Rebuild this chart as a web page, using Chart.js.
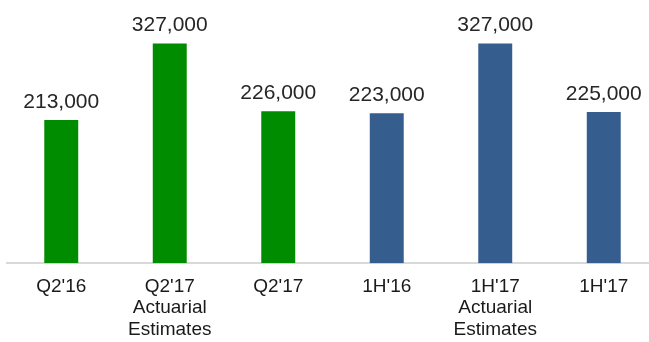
<!DOCTYPE html>
<html>
<head>
<meta charset="utf-8">
<script src="https://cdn.jsdelivr.net/npm/chart.js@4/dist/chart.umd.min.js"></script>
<style>
  html, body { margin: 0; padding: 0; background: #fff; overflow: hidden; }
  #wrap { width: 658px; height: 342px; }
</style>
</head>
<body>
<div id="wrap"><canvas id="grafico"></canvas></div>
<script>
// categorias (eixo x, multi-linha)
const categorias = [
    ["Q2'16"],
    ["Q2'17", "Actuarial", "Estimates"],
    ["Q2'17"],
    ["1H'16"],
    ["1H'17", "Actuarial", "Estimates"],
    ["1H'17"]
];

const valores = [213000, 327000, 226000, 223000, 327000, 225000];

const cores = ["#008c00", "#008c00", "#008c00", "#355d8e", "#355d8e", "#355d8e"];

const fonte = "'Liberation Sans', Arial, sans-serif";

// rotulos acima das barras
const rotulosValor = {
    id: "rotulosValor",
    afterDatasetsDraw(chart) {
        const ctx = chart.ctx;
        const meta = chart.getDatasetMeta(0);
        ctx.save();
        ctx.font = "21px " + fonte;
        ctx.fillStyle = "#262626";
        ctx.textAlign = "center";
        ctx.textBaseline = "alphabetic";
        meta.data.forEach((bar, i) => {
            ctx.fillText(valores[i].toLocaleString("en-US"), bar.x, bar.y - 12);
        });
        ctx.restore();
    }
};

new Chart(document.getElementById("grafico"), {
    type: "bar",
    data: {
        labels: categorias,
        datasets: [{
            data: valores,
            backgroundColor: cores,
            barPercentage: 0.313,
            categoryPercentage: 1
        }]
    },
    options: {
        responsive: true,
        maintainAspectRatio: false,
        animation: false,
        layout: { padding: { left: 7, right: 0, top: 28, bottom: -11 } },
        plugins: {
            legend: { display: false },
            tooltip: { enabled: false }
        },
        scales: {
            x: {
                grid: { display: false, drawTicks: false },
                border: { display: true, color: "#d9d9d9", width: 2 },
                ticks: {
                    color: "#1a1a1a",
                    padding: 13,
                    maxRotation: 0,
                    autoSkip: false,
                    font: { family: fonte, size: 19, lineHeight: 1.12 }
                }
            },
            y: {
                display: false,
                min: 0,
                max: 350000
            }
        }
    },
    plugins: [rotulosValor]
});
</script>
</body>
</html>
